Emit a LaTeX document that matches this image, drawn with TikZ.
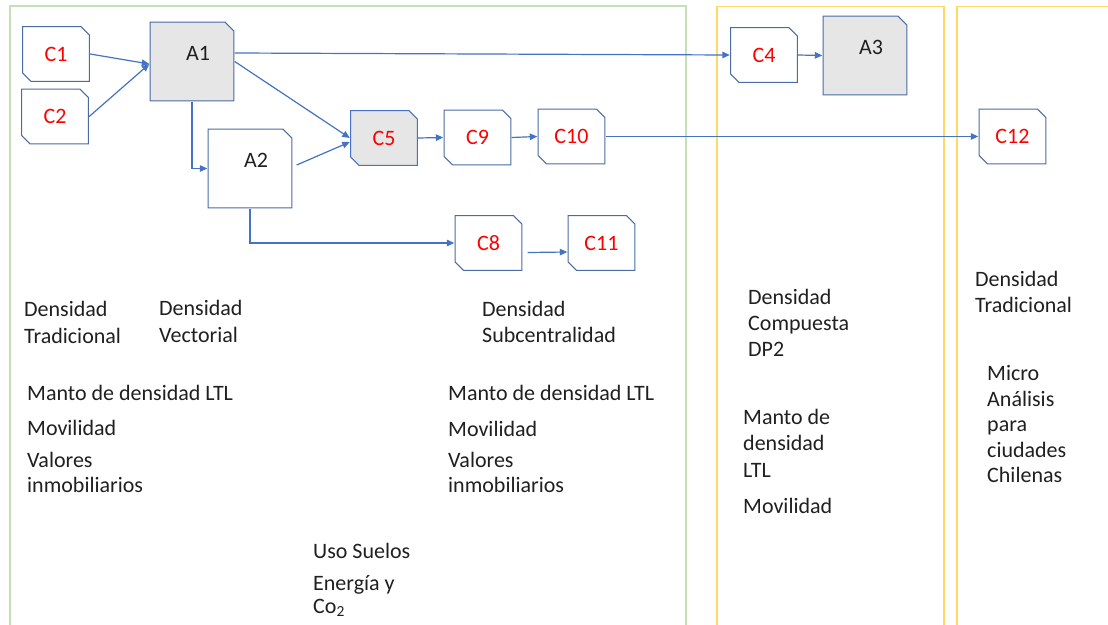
\documentclass[tikz,border=0pt]{standalone}
\usepackage{fontspec}
\setmainfont{Carlito}
\usetikzlibrary{arrows.meta}

\definecolor{edgeblue}{HTML}{4472C4}
\definecolor{boxline}{HTML}{4A6BA6}
\definecolor{boxgray}{HTML}{E6E6E6}
\definecolor{labred}{HTML}{FF0000}
\definecolor{framegreen}{HTML}{C5E0B4}
\definecolor{frameyellow}{HTML}{FFD966}
\definecolor{inktext}{HTML}{202020}

\tikzset{
  % outline with the top-right and bottom-left corners snipped off
  diagsnip/.style 2 args={path picture={
    \path[fill=#1, draw=#2, line width=1.1pt]
      ([shift={(-9pt,-0.6pt)}]path picture bounding box.north east)
      -- ([shift={(-0.6pt,-9pt)}]path picture bounding box.north east)
      -- ([shift={(-0.6pt,0.6pt)}]path picture bounding box.south east)
      -- ([shift={(9pt,0.6pt)}]path picture bounding box.south west)
      -- ([shift={(0.6pt,9pt)}]path picture bounding box.south west)
      -- ([shift={(0.6pt,-0.6pt)}]path picture bounding box.north west)
      -- cycle;}},
  % outline with only the top-right corner snipped off
  onesnip/.style={path picture={
    \path[fill=#1, draw=boxline, line width=1.1pt]
      ([shift={(-9.5pt,-0.6pt)}]path picture bounding box.north east)
      -- ([shift={(-0.6pt,-9.5pt)}]path picture bounding box.north east)
      -- ([shift={(-0.6pt,0.6pt)}]path picture bounding box.south east)
      -- ([shift={(0.6pt,0.6pt)}]path picture bounding box.south west)
      -- ([shift={(0.6pt,-0.6pt)}]path picture bounding box.north west)
      -- cycle;}},
  cbase/.style={rectangle, minimum width=68pt, minimum height=56pt,
    inner sep=0pt, text=labred, font=\fontsize{22}{26}\selectfont},
  cbox/.style={cbase, diagsnip={white}{boxline}},
  cgray/.style={cbase, diagsnip={boxgray}{edgeblue}},
  abox/.style={rectangle, onesnip=white, minimum width=85pt, minimum height=80pt,
    inner sep=0pt},
  agray/.style={abox, onesnip=boxgray},
  atext/.style={xshift=6pt, yshift=8.5pt, inner sep=0pt, text=inktext,
    font=\fontsize{22}{26}\selectfont},
  flow/.style={draw=edgeblue, line width=1.2pt, -{Triangle[length=7.5pt,width=6.5pt]}},
  frame/.style={line width=1.3pt},
  txt/.style={anchor=base west, inner sep=0pt, text=inktext,
    font=\fontsize{22}{26}\selectfont},
}

\begin{document}
\begin{tikzpicture}[x=1pt, y=-1pt]
\useasboundingbox (0,0) rectangle (1108,624);
\fill[white] (0,0) rectangle (1108,624);

% stage frames (open at the bottom)
\draw[frame, framegreen] (10,640) -- (10,6) -- (686,6) -- (686,640);
\draw[frame, frameyellow] (717,640) -- (717,6.5) -- (944,6.5) -- (944,640);
\draw[frame, frameyellow] (957,640) -- (957,6.5) -- (1120,6.5);

% process boxes
\node[cbox]  (C1)  at (56,54)      {C1};
\node[cbox]  (C2)  at (55,116.5)   {C2};
\node[agray, label={[atext]center:A1}] (A1) at (192,61.5) {};
\node[abox,  label={[atext]center:A2}] (A2) at (250,168.5) {};
\node[cgray] (C5)  at (384,138)    {C5};
\node[cbox]  (C9)  at (477.5,137.5){C9};
\node[cbox]  (C10) at (571.5,136.5){C10};
\node[cbox]  (C8)  at (488.5,243)  {C8};
\node[cbox]  (C11) at (601.5,243)  {C11};
\node[cbox]  (C4)  at (764,55)     {C4};
\node[agray, label={[atext]center:A3}] (A3) at (865,55.5) {};
\node[cbox]  (C12) at (1012.5,136.5){C12};

% connectors
\draw[flow] (C1.east) -- ([yshift=-2.5pt]A1.west);
\draw[flow] (C2.east) -- ([yshift=-2.5pt]A1.west);
\draw[flow] ([yshift=8.5pt]A1.east) -- (C4.west);
\draw[flow] (A1.east) -- (C5.west);
\draw[flow] (A1.south) |- (A2.west);
\draw[flow] ([shift={(4pt,3.5pt)}]A2.east) -- ([yshift=-4pt]C5.west);
\draw[flow] (C5.east) -- (C9.west);
\draw[flow] (C9.east) -- (C10.west);
\draw[flow] (C10.east) -- (C12.west);
\draw[flow] (A2.south) |- (C8.west);
\draw[flow] ([shift={(5pt,-9.5pt)}]C8.east) -- ([yshift=-9pt]C11.west);
\draw[flow] (C4.east) -- (A3.west);

% first stage notes
\node[txt] (t1)  at (24,316)  {Densidad};
\node[txt] (t2)  at (24,343)  {Tradicional};
\node[txt] (t3)  at (159,315) {Densidad};
\node[txt] (t4)  at (159,342) {Vectorial};
\node[txt] (t5)  at (27,400)  {Manto de densidad LTL};
\node[txt] (t6)  at (27,435)  {Movilidad};
\node[txt] (t7)  at (27,467)  {Valores};
\node[txt] (t8)  at (27,492)  {inmobiliarios};
\node[txt] (t9)  at (482,316) {Densidad};
\node[txt] (t10) at (482,342) {Subcentralidad};
\node[txt] (t11) at (448,400) {Manto de densidad LTL};
\node[txt] (t12) at (448,436) {Movilidad};
\node[txt] (t13) at (448,467) {Valores};
\node[txt] (t14) at (448,492) {inmobiliarios};
\node[txt] (t15) at (313,558) {Uso Suelos};
\node[txt] (t16) at (313,590) {Energía y};
\node[txt] (t17) at (313,613) {Co\textsubscript{2}};

% second stage notes
\node[txt] (t18) at (748,304) {Densidad};
\node[txt] (t19) at (748,330) {Compuesta};
\node[txt] (t20) at (748,356) {DP2};
\node[txt] (t21) at (743,424) {Manto de};
\node[txt] (t22) at (743,450) {densidad};
\node[txt] (t23) at (743,477) {LTL};
\node[txt] (t24) at (743,513) {Movilidad};

% third stage notes
\node[txt] (t25) at (975,286) {Densidad};
\node[txt] (t26) at (975,312) {Tradicional};
\node[txt] (t27) at (987,380) {Micro};
\node[txt] (t28) at (987,406) {Análisis};
\node[txt] (t29) at (987,431) {para};
\node[txt] (t30) at (987,457) {ciudades};
\node[txt] (t31) at (987,482) {Chilenas};
\end{tikzpicture}
\end{document}
